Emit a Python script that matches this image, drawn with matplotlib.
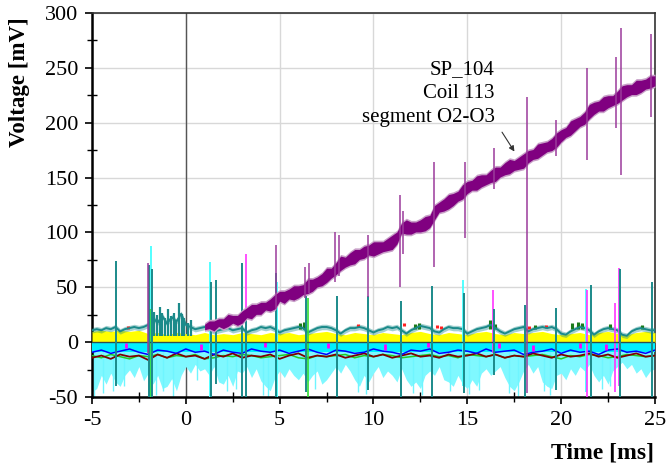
import numpy as np
import matplotlib
matplotlib.use("Agg")
import matplotlib.pyplot as plt

plt.rcParams['font.family'] = ['Liberation Serif', 'DejaVu Serif']
plt.rcParams['axes.unicode_minus'] = False

# ---------------------------------------------------------------- data
# time grids [ms]
t_fine = np.arange(-5.0, 25.001, 0.25)     # 121 samples
t_coarse = np.arange(-5.0, 25.001, 0.5)    # 61 samples
t_ramp = np.arange(1.0, 25.001, 0.25)      # 97 samples

# SP_104, coil 113, segment O2-O3 (ramping channel) [mV]
ramp_mid = [14, 16, 15, 18, 17, 20, 21, 20, 23, 27, 28, 30, 31, 33, 34, 37,
            42, 41, 44, 45, 46, 48, 51, 52, 55, 57, 61, 63, 67, 72, 73, 76,
            78, 80, 82, 84, 85, 86, 87, 89, 91, 95, 104, 105, 104, 105, 106, 108,
            110, 118, 123, 125, 128, 130, 133, 137, 141, 143, 145, 147, 148, 151, 153, 155,
            158, 160, 161, 163, 165, 169, 171, 174, 176, 178, 180, 184, 188, 191, 195, 198,
            201, 204, 210, 213, 215, 217, 219, 220, 223, 227, 229, 230, 232, 233, 235, 237,
            238]
ramp_spread = [4, 5, 6, 5, 6, 7, 5, 6, 7, 6, 8, 6, 7, 5, 7, 8,
               6, 7, 6, 8, 7, 6, 8, 7, 6, 7, 8, 6, 7, 8, 6, 7,
               8, 6, 7, 6, 8, 7, 6, 7, 8, 7, 6, 8, 7, 6, 7, 8,
               7, 8, 6, 7, 8, 7, 6, 8, 7, 6, 8, 7, 6, 7, 8, 6,
               7, 8, 6, 7, 8, 7, 6, 8, 7, 6, 7, 8, 7, 6, 8, 7,
               6, 7, 8, 7, 6, 8, 7, 6, 7, 8, 7, 6, 8, 7, 6, 7,
               6]

# teal channel (close to +12 mV)
teal = [11, 12, 11, 13, 12, 14, 10, 12, 13, 14, 13, 14, 16, 22, 18, 24,
        17, 23, 19, 26, 16, 14, 12, 13, 14, 12, 10, 11, 12, 13, 11, 12,
        13, 9, 11, 12, 14, 13, 14, 12, 9, 11, 12, 13, 14, 13, 9, 11,
        13, 14, 14, 13, 11, 8, 11, 13, 13, 14, 13, 11, 9, 11, 12, 14,
        13, 14, 11, 8, 11, 13, 15, 14, 13, 10, 9, 12, 14, 13, 13, 12,
        8, 10, 12, 13, 14, 16, 13, 10, 8, 10, 12, 13, 14, 10, 12, 13,
        14, 13, 14, 12, 8, 7, 10, 12, 14, 13, 11, 7, 10, 12, 13, 12,
        11, 7, 6, 10, 12, 13, 12, 11, 11]

# light-cyan channel, lowest excursion of its noise [mV]
cyan_floor = [-45, -42, -30, -38, -28, -36, -40, -30, -25, -32, -22, -35,
              -28, -38, -30, -42, -40, -33, -44, -30, -22, -28, -20, -26,
              -24, -30, -22, -36, -38, -30, -40, -26, -28, -22, -32, -24,
              -35, -40, -44, -32, -26, -32, -24, -30, -34, -28, -36, -30,
              -26, -38, -34, -28, -22, -28, -20, -26, -34, -40, -30, -36,
              -28, -22, -32, -26, -30, -36, -24, -34, -40, -36, -42, -30,
              -26, -30, -22, -34, -36, -40, -30, -38, -42, -34, -40, -28,
              -24, -30, -26, -22, -32, -40, -44, -36, -26, -20, -28, -22,
              -36, -40, -42, -30, -28, -34, -24, -30, -22, -26, -20, -30,
              -36, -30, -38, -26, -22, -18, -24, -20, -28, -24, -32, -26,
              -24]
cyan_dip_t = [-4.9, -4.4, -3.9, -3.3, -1.6, -1.2, -0.7, 0.6, 2.2, 2.7, 4.1, 4.4, 6.9,
              9.2, 9.6, 12.1, 12.6, 14.1, 15.1, 15.6, 17.2, 17.7, 19.1, 19.4, 22.2, 22.6]
cyan_dip_v = [-50, -46, -44, -40, -48, -44, -50, -34, -44, -42, -48, -50, -42,
              -45, -47, -46, -48, -44, -47, -43, -46, -49, -44, -48, -42, -40]

# yellow channel, upper edge [mV]
yellow_top = [10, 11, 10, 11, 10, 11, 8, 9, 7, 9,
              8, 7, 9, 7, 8, 7, 9, 8, 7, 9,
              8, 9, 7, 8, 9, 10, 8, 7, 9, 8,
              7, 9, 8, 7, 9, 10, 8, 7, 9, 8,
              7, 9, 10, 8, 7, 9, 8, 9, 10, 8,
              7, 8, 9, 7, 9, 10, 8, 7, 9, 10,
              9]

# channels around -10 mV
maroon = [-14, -12, -15, -11, -13, -12, -16, -11, -14, -10,
          -13, -12, -15, -11, -13, -10, -14, -12, -13, -11,
          -15, -12, -10, -14, -12, -13, -11, -14, -12, -10,
          -13, -11, -14, -12, -10, -13, -12, -14, -11, -13,
          -12, -10, -13, -11, -14, -12, -13, -10, -12, -14,
          -11, -13, -12, -10, -13, -11, -14, -12, -10, -13,
          -12]
blue = [-9, -7, -10, -8, -6, -9, -11, -7, -8, -10,
        -6, -9, -8, -11, -7, -9, -10, -6, -8, -9,
        -7, -10, -8, -6, -9, -11, -7, -8, -10, -9,
        -6, -8, -9, -11, -7, -8, -6, -10, -9, -7,
        -8, -10, -6, -9, -8, -7, -11, -9, -8, -6,
        -10, -7, -9, -8, -11, -7, -6, -9, -8, -10,
        -7]
green = [-12, -14, -11, -13, -15, -12, -13, -11, -14, -12,
         -13, -11, -15, -14, -12, -13, -11, -12, -14, -13,
         -12, -11, -14, -15, -12, -13, -12, -11, -14, -12,
         -13, -11, -12, -14, -13, -12, -11, -13, -12, -14,
         -11, -12, -13, -11, -14, -12, -13, -12, -11, -13,
         -15, -12, -13, -11, -12, -14, -13, -11, -12, -13,
         -12]

# short excursions of individual channels
teal_burst_t = [-1.9, -1.7, -1.55, -1.4, -1.25, -1.1, -0.95, -0.8, -0.65, -0.5, -0.35, -0.2, -0.1, 0.1, 0.3]
teal_burst_v = [30, 28, 25, 32, 27, 22, 30, 24, 27, 20, 36, 26, 22, 18, 20]
dkgreen_t = [6.1, 6.3, 12.2, 12.4, 16.2, 16.5, 18.6, 20.6, 20.9, 21.1, 22.6, 24.3]
dkgreen_v = [18, 19, 17, 18, 20, 17, 16, 18, 19, 18, 17, 16]
red_t = [-3.1, 9.2, 11.6, 13.4, 13.6, 18.3, 19.2]
red_v = [15, 17, 18, 16, 15, 15, 16]
magenta_t = [-3.2, 0.8, 4.2, 7.6, 10.6, 12.9, 16.7, 18.5, 21.0, 22.4]
magenta_v = [-3, -4, -2, -3, -4, -2, -3, -5, -3, -4]

# switching spikes: time [ms], top and bottom [mV]
teal_spk_t = [-3.7, -1.95, -1.8, 1.35, 1.6, 3.0, 3.2, 4.8, 6.4, 8.05, 9.7, 11.45, 13.1,
              14.8, 16.4, 18.1, 19.75, 21.6, 23.15, 24.85]
teal_spk_top = [74, 70, 67, 55, 57, 72, 20, 63, 45, 42, 42, 38, 51, 45, 30, 34, 31, 52, 67, 55]
teal_spk_bot = [-40, -50, -50, -50, -38, -50, -50, -50, -45, -50, -43, -50, -50, -46, -30,
                -50, -43, -50, -50, -50]
cyan_spk_t = [-1.85, 1.3, 4.85, 14.75, 21.3]
cyan_spk_top = [88, 73, 55, 57, 49]
cyan_spk_bot = [-50, -50, -50, -40, -45]
magenta_spk_t = [3.2, 16.35, 21.4, 22.85, 23.1]
magenta_spk_top = [80, 48, 48, 36, 68]
magenta_spk_bot = [-20, -10, -50, -45, -40]
green_spk_t = [-1.9, 6.5]
green_spk_top = [30, 40]
green_spk_bot = [-50, -50]
ramp_spk_t = [-2.0, 4.8, 6.35, 6.55, 7.95, 8.15, 9.7, 11.4, 11.55, 13.2, 14.9, 16.4, 18.2,
              19.7, 21.4, 22.9, 23.2, 24.8]
ramp_spk_top = [72, 89, 69, 72, 100, 98, 98, 134, 120, 164, 164, 177, 223, 202, 250, 260, 286, 281]
ramp_spk_bot = [-10, 30, 40, 45, 55, 60, 41, 50, 80, 69, 95, 140, -46, 170, 166, 195, 152, 205]

label_lines = ["SP_104", "Coil 113", "segment O2-O3"]

# ---------------------------------------------------------------- figure
fig = plt.figure(figsize=(6.68, 4.68), dpi=100)
ax = fig.add_axes([0.1377, 0.151, 0.8428, 0.8219])
ax.set_xlim(-5, 25)
ax.set_ylim(-50, 300)

ax.set_xticks([-5, 0, 5, 10, 15, 20, 25])
ax.set_yticks([-50, 0, 50, 100, 150, 200, 250, 300])
ax.set_xticks(np.arange(-2.5, 25, 5), minor=True)
ax.set_yticks(np.arange(-25, 300, 50), minor=True)
ax.grid(True, which='major', color='#d8d8d8', lw=1.0, zorder=0)
ax.tick_params(axis='both', which='major', direction='out', length=5, width=1.2,
               labelsize=16, pad=5, color='black')
ax.tick_params(axis='both', which='minor', direction='inout', length=7, width=1.0)
ax.set_axisbelow(True)

for side in ('left', 'bottom'):
    ax.spines[side].set_linewidth(1.8)
    ax.spines[side].set_color('black')
for side in ('top', 'right'):
    ax.spines[side].set_linewidth(1.2)
    ax.spines[side].set_color('#333333')

ax.axvline(0, color='#555555', lw=1.0, zorder=1)

# low-level channels
ax.fill_between(t_fine, cyan_floor, -2, color='#7ff8ff', lw=0, zorder=2)
ax.vlines(cyan_dip_t, cyan_dip_v, -8, color='#6ff5ff', lw=1.0, zorder=2)
ax.fill_between(t_coarse, -9, -1, color='#00f0ff', lw=0, zorder=3)
ax.fill_between(t_coarse, 0, yellow_top, color='#ffff00', lw=0, zorder=3)
ax.plot(t_coarse, green, color='#22cc22', lw=1.1, zorder=4)
ax.plot(t_coarse, maroon, color='#800000', lw=1.3, zorder=4)
ax.plot(t_coarse, blue, color='#0000ff', lw=1.1, zorder=4)
ax.vlines(magenta_t, np.asarray(magenta_v) - 2.5, np.asarray(magenta_v) + 2.5,
          color='#ff00ff', lw=2.0, zorder=4)

teal_c = '#1b8a8a'
teal_arr = np.asarray(teal, dtype=float)
ax.fill_between(t_fine, teal_arr - 2.5, teal_arr + 2.5, color=teal_c, alpha=0.4, lw=0, zorder=5)
ax.plot(t_fine, teal, color=teal_c, lw=1.4, zorder=6)
ax.vlines(teal_burst_t, 6, teal_burst_v, color=teal_c, lw=1.6, zorder=6)
ax.vlines(dkgreen_t, 12, dkgreen_v, color='#1a7a1a', lw=2.2, zorder=5)
ax.vlines(red_t, np.asarray(red_v) - 3, red_v, color='#ff2020', lw=2.2, zorder=5)

ax.axhline(0, color='#2f4f4f', lw=1.0, zorder=7)

# spikes
ax.vlines(cyan_spk_t, cyan_spk_bot, cyan_spk_top, color='#44ffff', lw=1.3, zorder=6)
ax.vlines(green_spk_t, green_spk_bot, green_spk_top, color='#33dd33', lw=1.2, zorder=6)
ax.vlines(magenta_spk_t, magenta_spk_bot, magenta_spk_top, color='#ff33ff', lw=1.2, zorder=6)
ax.vlines(teal_spk_t, teal_spk_bot, teal_spk_top, color=teal_c, lw=1.4, zorder=7)

# ramping channel
mid = np.asarray(ramp_mid, dtype=float)
spr = np.asarray(ramp_spread, dtype=float)
ax.fill_between(t_ramp, mid - spr, mid + spr, color='#c8a0c8', lw=0, zorder=8)
ax.fill_between(t_ramp, mid - spr + 1.5, mid + spr - 1.5, color='#800080', lw=0, zorder=9)
ax.vlines(ramp_spk_t, ramp_spk_bot, ramp_spk_top, color='#9b3b9b', lw=1.1, zorder=9)

# annotation
for line, y in zip(label_lines, [247.9, 226.1, 205.0]):
    ax.text(16.47, y, line, ha='right', va='center', fontsize=15, zorder=10)
ax.annotate('', xy=(17.59, 171.5), xytext=(16.77, 193.4),
            arrowprops=dict(arrowstyle='-|>', color='#333333', lw=0.8, mutation_scale=8),
            zorder=10)

fig.text(20 / 668, 1 - 82 / 468, 'Voltage [mV]', rotation=90, ha='center', va='center',
         fontsize=16.5, fontweight='bold')
fig.text(654 / 668, 1 - 453 / 468, 'Time [ms]', ha='right', va='center',
         fontsize=17, fontweight='bold')

fig.savefig('out.png', dpi=100)
